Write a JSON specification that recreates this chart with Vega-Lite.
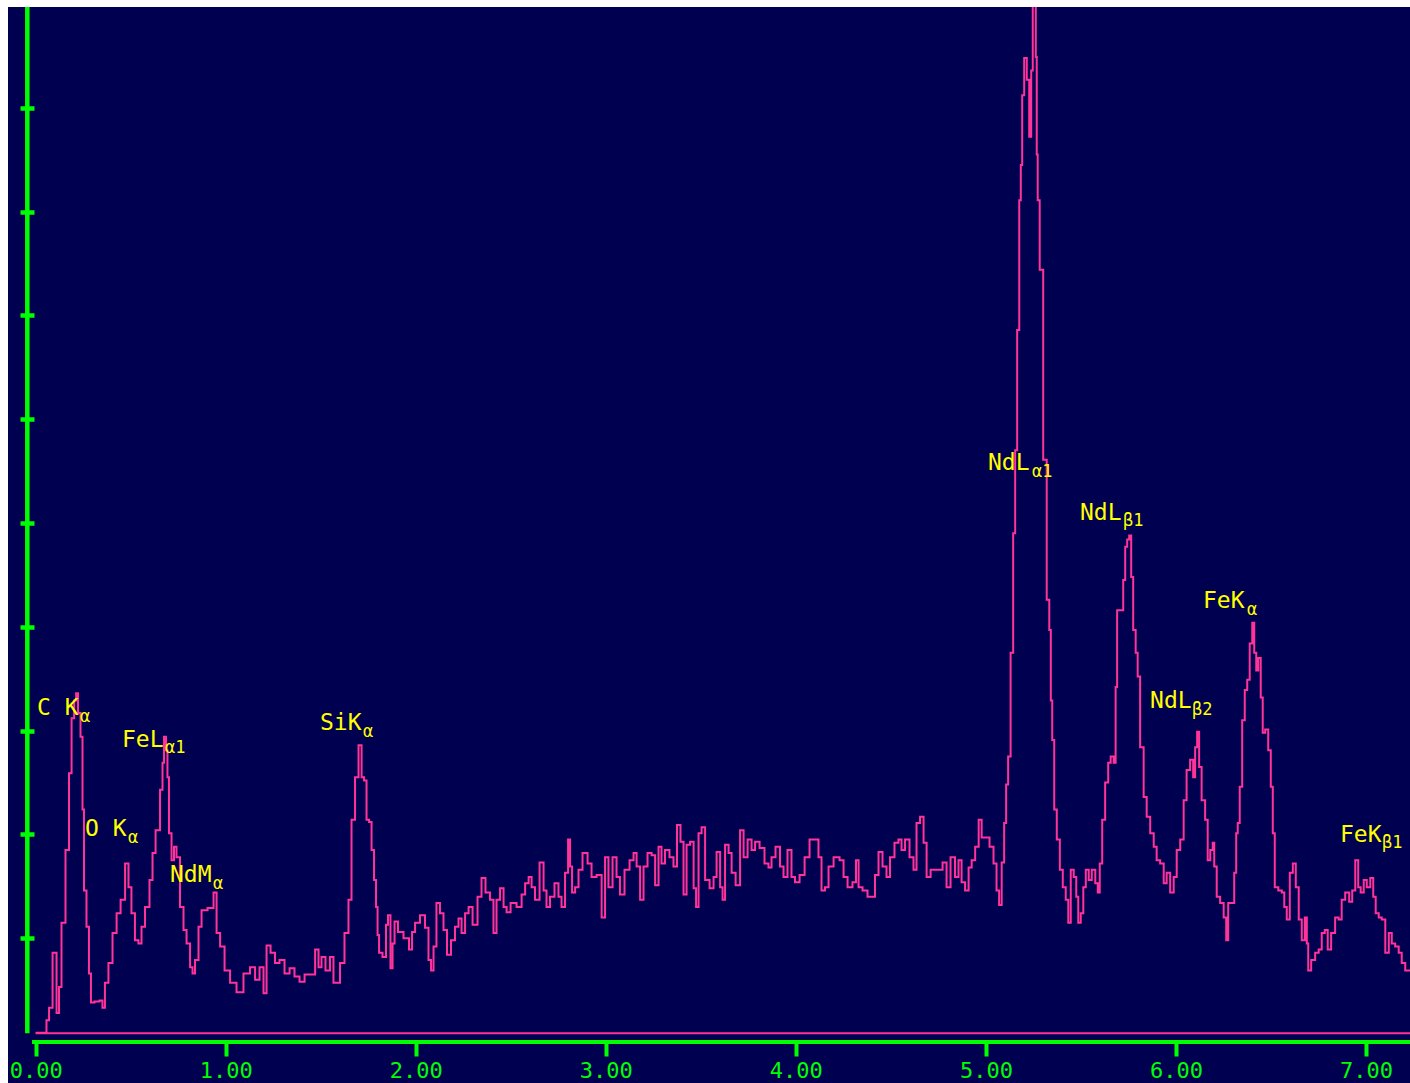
{
  "$schema": "https://vega.github.io/schema/vega-lite/v6.json",
  "width": 1402,
  "height": 1076,
  "autosize": {"type": "none"},
  "padding": {"left": 8, "top": 7, "right": 0, "bottom": 0},
  "background": "white",
  "config": {"view": {"fill": "#000050", "stroke": null}},
  "datasets": {
    "spectrum": [
      {"e":0.000,"c":9},{"e":0.049,"c":9},{"e":0.065,"c":21},{"e":0.076,"c":33},{"e":0.102,"c":86},{"e":0.118,"c":28},{"e":0.128,"c":53},{"e":0.144,"c":115},{"e":0.170,"c":185},{"e":0.181,"c":259},{"e":0.197,"c":312},{"e":0.208,"c":329},{"e":0.218,"c":336},{"e":0.228,"c":317},{"e":0.244,"c":294},{"e":0.249,"c":224},{"e":0.260,"c":146},{"e":0.275,"c":111},{"e":0.286,"c":66},{"e":0.296,"c":38},{"e":0.323,"c":39},{"e":0.349,"c":40},{"e":0.354,"c":33},{"e":0.375,"c":57},{"e":0.391,"c":76},{"e":0.418,"c":105},{"e":0.434,"c":124},{"e":0.460,"c":137},{"e":0.481,"c":172},{"e":0.496,"c":149},{"e":0.512,"c":124},{"e":0.533,"c":98},{"e":0.549,"c":95},{"e":0.565,"c":111},{"e":0.586,"c":130},{"e":0.612,"c":156},{"e":0.618,"c":182},{"e":0.644,"c":204},{"e":0.665,"c":243},{"e":0.670,"c":269},{"e":0.681,"c":294},{"e":0.691,"c":281},{"e":0.696,"c":255},{"e":0.707,"c":201},{"e":0.723,"c":175},{"e":0.733,"c":188},{"e":0.749,"c":178},{"e":0.770,"c":130},{"e":0.786,"c":108},{"e":0.802,"c":95},{"e":0.823,"c":72},{"e":0.828,"c":66},{"e":0.849,"c":79},{"e":0.865,"c":111},{"e":0.881,"c":127},{"e":0.928,"c":129},{"e":0.944,"c":144},{"e":0.960,"c":105},{"e":0.981,"c":92},{"e":1.007,"c":69},{"e":1.039,"c":57},{"e":1.075,"c":48},{"e":1.112,"c":66},{"e":1.144,"c":72},{"e":1.165,"c":60},{"e":1.191,"c":72},{"e":1.207,"c":47},{"e":1.223,"c":93},{"e":1.249,"c":86},{"e":1.270,"c":76},{"e":1.296,"c":79},{"e":1.323,"c":66},{"e":1.349,"c":71},{"e":1.375,"c":63},{"e":1.402,"c":58},{"e":1.428,"c":65},{"e":1.460,"c":65},{"e":1.481,"c":89},{"e":1.496,"c":72},{"e":1.512,"c":82},{"e":1.538,"c":69},{"e":1.559,"c":82},{"e":1.575,"c":57},{"e":1.591,"c":57},{"e":1.612,"c":76},{"e":1.638,"c":105},{"e":1.654,"c":137},{"e":1.670,"c":214},{"e":1.691,"c":255},{"e":1.707,"c":286},{"e":1.723,"c":255},{"e":1.733,"c":252},{"e":1.749,"c":214},{"e":1.760,"c":212},{"e":1.775,"c":185},{"e":1.786,"c":156},{"e":1.796,"c":130},{"e":1.802,"c":103},{"e":1.812,"c":86},{"e":1.838,"c":82},{"e":1.849,"c":113},{"e":1.859,"c":122},{"e":1.875,"c":71},{"e":1.881,"c":95},{"e":1.896,"c":116},{"e":1.917,"c":106},{"e":1.954,"c":100},{"e":1.975,"c":89},{"e":1.986,"c":106},{"e":2.007,"c":115},{"e":2.038,"c":122},{"e":2.059,"c":110},{"e":2.075,"c":79},{"e":2.086,"c":69},{"e":2.101,"c":92},{"e":2.117,"c":134},{"e":2.138,"c":124},{"e":2.154,"c":108},{"e":2.175,"c":84},{"e":2.196,"c":98},{"e":2.217,"c":111},{"e":2.233,"c":119},{"e":2.249,"c":105},{"e":2.270,"c":124},{"e":2.286,"c":130},{"e":2.312,"c":113},{"e":2.338,"c":140},{"e":2.354,"c":158},{"e":2.380,"c":144},{"e":2.401,"c":137},{"e":2.417,"c":105},{"e":2.433,"c":137},{"e":2.454,"c":148},{"e":2.470,"c":130},{"e":2.486,"c":125},{"e":2.512,"c":134},{"e":2.549,"c":130},{"e":2.565,"c":142},{"e":2.586,"c":153},{"e":2.602,"c":159},{"e":2.617,"c":149},{"e":2.638,"c":137},{"e":2.665,"c":173},{"e":2.680,"c":146},{"e":2.696,"c":130},{"e":2.717,"c":140},{"e":2.743,"c":153},{"e":2.759,"c":140},{"e":2.775,"c":130},{"e":2.796,"c":163},{"e":2.807,"c":195},{"e":2.817,"c":169},{"e":2.828,"c":144},{"e":2.849,"c":149},{"e":2.864,"c":166},{"e":2.891,"c":182},{"e":2.917,"c":172},{"e":2.933,"c":159},{"e":2.970,"c":161},{"e":2.986,"c":120},{"e":3.006,"c":178},{"e":3.022,"c":149},{"e":3.049,"c":178},{"e":3.064,"c":159},{"e":3.085,"c":142},{"e":3.112,"c":166},{"e":3.138,"c":175},{"e":3.154,"c":182},{"e":3.170,"c":169},{"e":3.191,"c":137},{"e":3.206,"c":169},{"e":3.233,"c":182},{"e":3.249,"c":180},{"e":3.270,"c":151},{"e":3.285,"c":188},{"e":3.301,"c":172},{"e":3.322,"c":185},{"e":3.348,"c":178},{"e":3.364,"c":169},{"e":3.385,"c":209},{"e":3.401,"c":193},{"e":3.417,"c":142},{"e":3.433,"c":190},{"e":3.454,"c":193},{"e":3.470,"c":148},{"e":3.480,"c":130},{"e":3.496,"c":201},{"e":3.512,"c":207},{"e":3.533,"c":156},{"e":3.559,"c":148},{"e":3.575,"c":159},{"e":3.591,"c":183},{"e":3.612,"c":149},{"e":3.617,"c":137},{"e":3.638,"c":190},{"e":3.654,"c":182},{"e":3.670,"c":163},{"e":3.696,"c":151},{"e":3.717,"c":204},{"e":3.733,"c":178},{"e":3.759,"c":195},{"e":3.775,"c":185},{"e":3.796,"c":193},{"e":3.822,"c":187},{"e":3.848,"c":172},{"e":3.864,"c":168},{"e":3.880,"c":178},{"e":3.906,"c":188},{"e":3.927,"c":169},{"e":3.943,"c":159},{"e":3.969,"c":185},{"e":3.985,"c":159},{"e":4.006,"c":154},{"e":4.033,"c":161},{"e":4.059,"c":178},{"e":4.085,"c":195},{"e":4.111,"c":195},{"e":4.127,"c":178},{"e":4.143,"c":146},{"e":4.164,"c":149},{"e":4.180,"c":169},{"e":4.217,"c":178},{"e":4.243,"c":175},{"e":4.259,"c":159},{"e":4.285,"c":149},{"e":4.311,"c":154},{"e":4.322,"c":175},{"e":4.338,"c":149},{"e":4.364,"c":146},{"e":4.390,"c":140},{"e":4.406,"c":140},{"e":4.427,"c":161},{"e":4.443,"c":183},{"e":4.469,"c":169},{"e":4.485,"c":159},{"e":4.506,"c":178},{"e":4.532,"c":192},{"e":4.548,"c":195},{"e":4.564,"c":185},{"e":4.585,"c":195},{"e":4.611,"c":178},{"e":4.627,"c":166},{"e":4.643,"c":211},{"e":4.664,"c":217},{"e":4.680,"c":192},{"e":4.696,"c":159},{"e":4.722,"c":166},{"e":4.759,"c":166},{"e":4.785,"c":173},{"e":4.801,"c":149},{"e":4.827,"c":178},{"e":4.848,"c":159},{"e":4.864,"c":175},{"e":4.880,"c":154},{"e":4.901,"c":146},{"e":4.917,"c":168},{"e":4.933,"c":175},{"e":4.954,"c":188},{"e":4.970,"c":214},{"e":4.985,"c":197},{"e":5.006,"c":197},{"e":5.032,"c":188},{"e":5.048,"c":172},{"e":5.064,"c":146},{"e":5.075,"c":132},{"e":5.091,"c":173},{"e":5.101,"c":211},{"e":5.112,"c":248},{"e":5.122,"c":275},{"e":5.138,"c":375},{"e":5.149,"c":490},{"e":5.159,"c":570},{"e":5.170,"c":686},{"e":5.181,"c":811},{"e":5.186,"c":845},{"e":5.196,"c":912},{"e":5.207,"c":948},{"e":5.223,"c":927},{"e":5.233,"c":872},{"e":5.244,"c":936},{"e":5.249,"c":1040},{"e":5.260,"c":1040},{"e":5.265,"c":949},{"e":5.270,"c":855},{"e":5.275,"c":811},{"e":5.291,"c":744},{"e":5.312,"c":561},{"e":5.328,"c":426},{"e":5.339,"c":397},{"e":5.344,"c":329},{"e":5.354,"c":291},{"e":5.365,"c":224},{"e":5.381,"c":195},{"e":5.397,"c":166},{"e":5.412,"c":149},{"e":5.428,"c":137},{"e":5.439,"c":115},{"e":5.454,"c":166},{"e":5.470,"c":159},{"e":5.481,"c":140},{"e":5.491,"c":115},{"e":5.507,"c":124},{"e":5.518,"c":149},{"e":5.533,"c":166},{"e":5.549,"c":156},{"e":5.565,"c":166},{"e":5.586,"c":153},{"e":5.591,"c":144},{"e":5.607,"c":172},{"e":5.617,"c":214},{"e":5.638,"c":250},{"e":5.649,"c":269},{"e":5.664,"c":275},{"e":5.680,"c":269},{"e":5.685,"c":342},{"e":5.696,"c":416},{"e":5.717,"c":416},{"e":5.728,"c":445},{"e":5.738,"c":477},{"e":5.749,"c":484},{"e":5.759,"c":488},{"e":5.770,"c":448},{"e":5.780,"c":397},{"e":5.796,"c":375},{"e":5.801,"c":352},{"e":5.822,"c":284},{"e":5.838,"c":236},{"e":5.854,"c":217},{"e":5.875,"c":201},{"e":5.891,"c":188},{"e":5.906,"c":175},{"e":5.928,"c":172},{"e":5.943,"c":153},{"e":5.959,"c":163},{"e":5.980,"c":144},{"e":5.996,"c":159},{"e":6.012,"c":185},{"e":6.033,"c":195},{"e":6.048,"c":233},{"e":6.064,"c":262},{"e":6.085,"c":272},{"e":6.096,"c":255},{"e":6.106,"c":284},{"e":6.117,"c":299},{"e":6.127,"c":265},{"e":6.143,"c":233},{"e":6.164,"c":214},{"e":6.170,"c":175},{"e":6.191,"c":185},{"e":6.196,"c":192},{"e":6.207,"c":169},{"e":6.222,"c":140},{"e":6.243,"c":134},{"e":6.259,"c":120},{"e":6.270,"c":98},{"e":6.280,"c":134},{"e":6.301,"c":134},{"e":6.312,"c":163},{"e":6.322,"c":201},{"e":6.328,"c":211},{"e":6.343,"c":246},{"e":6.354,"c":310},{"e":6.370,"c":339},{"e":6.380,"c":349},{"e":6.396,"c":384},{"e":6.407,"c":404},{"e":6.417,"c":375},{"e":6.428,"c":358},{"e":6.438,"c":370},{"e":6.454,"c":332},{"e":6.459,"c":298},{"e":6.480,"c":301},{"e":6.491,"c":281},{"e":6.507,"c":246},{"e":6.512,"c":201},{"e":6.528,"c":149},{"e":6.549,"c":146},{"e":6.565,"c":144},{"e":6.575,"c":130},{"e":6.591,"c":118},{"e":6.607,"c":163},{"e":6.623,"c":172},{"e":6.638,"c":149},{"e":6.654,"c":118},{"e":6.670,"c":98},{"e":6.686,"c":120},{"e":6.691,"c":95},{"e":6.701,"c":69},{"e":6.722,"c":79},{"e":6.743,"c":86},{"e":6.759,"c":89},{"e":6.775,"c":105},{"e":6.791,"c":108},{"e":6.806,"c":89},{"e":6.827,"c":105},{"e":6.848,"c":120},{"e":6.864,"c":118},{"e":6.880,"c":137},{"e":6.901,"c":144},{"e":6.922,"c":135},{"e":6.933,"c":146},{"e":6.954,"c":175},{"e":6.964,"c":149},{"e":6.980,"c":144},{"e":6.996,"c":156},{"e":7.012,"c":149},{"e":7.033,"c":158},{"e":7.043,"c":140},{"e":7.059,"c":124},{"e":7.075,"c":120},{"e":7.091,"c":118},{"e":7.112,"c":86},{"e":7.128,"c":105},{"e":7.143,"c":95},{"e":7.164,"c":92},{"e":7.180,"c":86},{"e":7.196,"c":76},{"e":7.217,"c":69},{"e":7.233,"c":69}
    ],
    "labels": [
      {"main":"C K","sub":"α","x":0.007,"y":315,"sx":0.233,"sy":308},
      {"main":"O K","sub":"α","x":0.260,"y":198,"sx":0.486,"sy":192},
      {"main":"FeL","sub":"α1","x":0.454,"y":284,"sx":0.681,"sy":278},
      {"main":"NdM","sub":"α","x":0.707,"y":154,"sx":0.933,"sy":147},
      {"main":"SiK","sub":"α","x":1.496,"y":301,"sx":1.723,"sy":294},
      {"main":"NdL","sub":"α1","x":5.011,"y":551,"sx":5.243,"sy":544},
      {"main":"NdL","sub":"β1","x":5.495,"y":503,"sx":5.722,"sy":497},
      {"main":"NdL","sub":"β2","x":5.864,"y":322,"sx":6.085,"sy":315},
      {"main":"FeK","sub":"α","x":6.142,"y":418,"sx":6.374,"sy":411},
      {"main":"FeK","sub":"β1","x":6.863,"y":193,"sx":7.084,"sy":187}
    ]
  },
  "layer": [
    {
      "data": {"values": [{}]},
      "mark": {"type": "rule", "color": "#ff3399", "strokeWidth": 2},
      "encoding": {"x": {"datum": 0.0}, "x2": {"datum": 7.2315}, "y": {"datum": 8.5}}
    },
    {
      "data": {"values": [{}]},
      "mark": {"type": "rule", "color": "#00ff00", "strokeWidth": 4.5},
      "encoding": {"x": {"datum": -0.0439}, "y": {"datum": 8.5}, "y2": {"datum": 997.1}}
    },
    {
      "data": {"values": [{}]},
      "mark": {"type": "rule", "color": "#00ff00", "strokeWidth": 4},
      "encoding": {"x": {"datum": -0.019}, "x2": {"datum": 7.2315}, "y": {"datum": 0}}
    },
    {
      "data": {"name": "spectrum"},
      "mark": {"type": "line", "color": "#ff3399", "strokeWidth": 2, "interpolate": "step", "clip": true},
      "encoding": {
        "x": {"field": "e", "type": "quantitative", "title": null,
          "scale": {"domain": [-0.1455, 7.2315], "nice": false, "zero": false},
          "axis": {"orient": "bottom", "offset": -41, "values": [0,1,2,3,4,5,6,7], "format": ".2f",
            "domain": false, "grid": false, "ticks": true, "tickColor": "#00ff00", "tickWidth": 4, "tickSize": 14,
            "labelColor": "#00ff00", "labelFont": "DejaVu Sans Mono", "labelFontSize": 22, "labelPadding": 4,
            "labelFlush": false, "labelOverlap": false, "title": null}},
        "y": {"field": "c", "type": "quantitative", "title": null,
          "scale": {"domain": [-39.5, 997.1], "nice": false, "zero": false},
          "axis": {"orient": "left", "offset": -26, "values": [100,200,300,400,500,600,700,800,900],
            "domain": false, "grid": false, "labels": false, "tickColor": "#00ff00", "tickWidth": 4.5, "tickSize": 14, "title": null}}
      }
    },
    {
      "data": {"name": "labels"},
      "mark": {"type": "text", "align": "left", "baseline": "alphabetic", "font": "DejaVu Sans Mono", "fontSize": 23, "color": "#ffff00"},
      "encoding": {
        "x": {"field": "x", "type": "quantitative", "title": null},
        "y": {"field": "y", "type": "quantitative", "title": null},
        "text": {"field": "main"}
      }
    },
    {
      "data": {"name": "labels"},
      "mark": {"type": "text", "align": "left", "baseline": "alphabetic", "font": "DejaVu Sans Mono", "fontSize": 17, "color": "#ffff00"},
      "encoding": {
        "x": {"field": "sx", "type": "quantitative", "title": null},
        "y": {"field": "sy", "type": "quantitative", "title": null},
        "text": {"field": "sub"}
      }
    }
  ]
}
